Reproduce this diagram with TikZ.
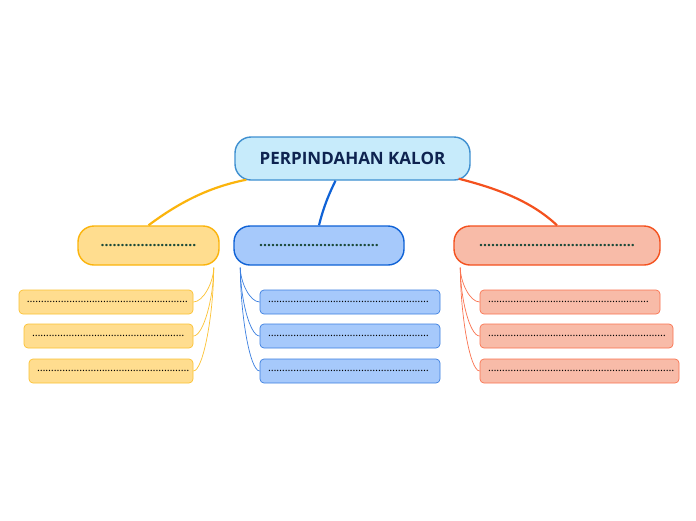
\documentclass[tikz,border=0pt]{standalone}
\usepackage{fontspec}
\setmainfont{Open Sans}
\begin{document}
\begin{tikzpicture}[x=1pt,y=1pt,
  rootbox/.style={draw=rootbd,fill=rootfill,line width=1.4pt,rounded corners=16pt,minimum width=235pt,minimum height=43pt,inner sep=0pt,font=\fontsize{17}{20}\selectfont\bfseries,text=roottext},
  mainbox/.style={line width=1.4pt,rounded corners=16pt,minimum height=39pt,inner sep=0pt,font=\fontsize{14}{16}\selectfont\bfseries,text=dotgreen},
  subbox/.style={line width=0.7pt,rounded corners=4pt,minimum height=24pt,inner sep=0pt,font=\fontsize{10.8}{12}\selectfont,text=black,align=left,text width=#1},
  mainline/.style={line width=2.2pt},
  subline/.style={line width=0.7pt},
]
\definecolor{rootfill}{HTML}{C7EBFB}
\definecolor{rootbd}{HTML}{3E8FD0}
\definecolor{roottext}{HTML}{0E2350}
\definecolor{dotgreen}{HTML}{1B4A3A}
\definecolor{yfill}{HTML}{FFDD8F}
\definecolor{ybd}{HTML}{FBB40C}
\definecolor{ysub}{HTML}{FCC233}
\definecolor{bfill}{HTML}{A6C9FB}
\definecolor{bbd}{HTML}{0F62D6}
\definecolor{bsub}{HTML}{3B7FE0}
\definecolor{ofill}{HTML}{F8BBA8}
\definecolor{obd}{HTML}{F4511E}
\definecolor{osub}{HTML}{FA7350}
\useasboundingbox[fill=white] (0,0) rectangle (696,-520);

\node[rootbox] (root) at (352.5,-158.5) {PERPINDAHAN KALOR};

\node[mainbox,draw=ybd,fill=yfill,minimum width=141pt] (ym) at (148.5,-245.5) {……………………};
\node[mainbox,draw=bbd,fill=bfill,minimum width=170pt] (bm) at (319,-245.5) {…………………………};
\node[mainbox,draw=obd,fill=ofill,minimum width=206pt] (om) at (557,-245.5) {…………………………………};

\node[subbox=158pt,draw=ysub,fill=yfill,minimum width=174pt] (ys1) at (106,-302) {…………………………………………………};
\node[subbox=153pt,draw=ysub,fill=yfill,minimum width=169pt] (ys2) at (108.5,-336) {………………………………………………};
\node[subbox=148pt,draw=ysub,fill=yfill,minimum width=164pt] (ys3) at (111,-371) {………………………………………………};

\node[subbox=164pt,draw=bsub,fill=bfill,minimum width=180pt] (bs1) at (350,-302) {…………………………………………………};
\node[subbox=164pt,draw=bsub,fill=bfill,minimum width=180pt] (bs2) at (350,-336) {…………………………………………………};
\node[subbox=164pt,draw=bsub,fill=bfill,minimum width=180pt] (bs3) at (350,-371) {…………………………………………………};

\node[subbox=164pt,draw=osub,fill=ofill,minimum width=180pt] (os1) at (570,-302) {…………………………………………………};
\node[subbox=177pt,draw=osub,fill=ofill,minimum width=193pt] (os2) at (576.5,-336) {………………………………………………………};
\node[subbox=183pt,draw=osub,fill=ofill,minimum width=199pt] (os3) at (579.5,-371) {…………………………………………………………};

% main connectors
\draw[mainline,draw=ybd] ([xshift=12pt,yshift=1pt]root.south west) .. controls (215,-186) and (185,-198) .. (ym.north);
\draw[mainline,draw=bbd] ([xshift=-17pt]root.south) .. controls (330,-192) and (324,-205) .. (bm.north);
\draw[mainline,draw=obd] ([xshift=-12pt,yshift=2pt]root.south east) .. controls (495,-188) and (530,-200) .. (om.north);

% sub connectors
\coordinate (yo) at ([xshift=-6pt,yshift=-2pt]ym.south east);
\coordinate (bo) at ([xshift=7pt,yshift=-2pt]bm.south west);
\coordinate (oo) at ([xshift=7pt,yshift=-2pt]om.south west);
\foreach \s/\d in {1/14,2/30,3/45}{
  \draw[subline,draw=ysub] (yo) .. controls +(0,-\d) and +(10,0) .. (ys\s.east);
  \draw[subline,draw=bsub] (bo) .. controls +(0,-\d) and +(-10,0) .. (bs\s.west);
  \draw[subline,draw=osub] (oo) .. controls +(0,-\d) and +(-10,0) .. (os\s.west);
}
\end{tikzpicture}
\end{document}
